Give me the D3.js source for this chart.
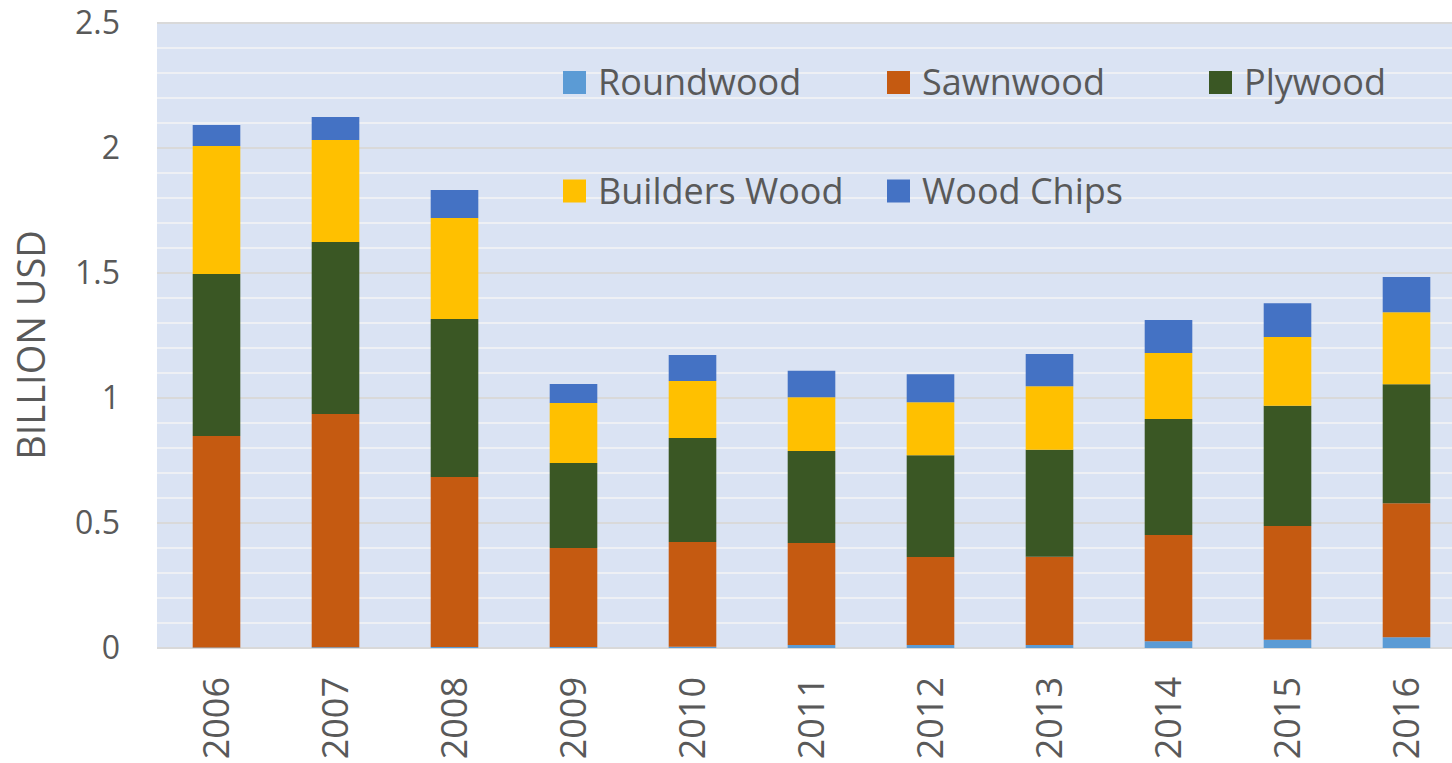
<!DOCTYPE html>
<html><head><meta charset="utf-8">
<script src="https://cdn.jsdelivr.net/npm/d3@7"></script>
<style>
body{margin:0;background:#fff;}
svg text{font-family:"Open Sans",sans-serif;fill:#595959;}
</style></head>
<body><svg id="c" width="1452" height="763"></svg>
<script>
const years = ["2006","2007","2008","2009","2010","2011","2012","2013","2014","2015","2016"];
const seriesNames = ["Roundwood","Sawnwood","Plywood","Builders Wood","Wood Chips"];
const roundwood = [0.002,0.003,0.004,0.004,0.005,0.012,0.012,0.012,0.027,0.033,0.043];
const sawnwood  = [0.846,0.933,0.680,0.396,0.419,0.408,0.352,0.353,0.425,0.455,0.536];
const plywood   = [0.648,0.688,0.632,0.340,0.416,0.368,0.407,0.428,0.464,0.481,0.476];
const builders  = [0.512,0.408,0.404,0.240,0.228,0.215,0.212,0.254,0.264,0.275,0.288];
const woodChips = [0.084,0.092,0.112,0.076,0.104,0.106,0.112,0.129,0.132,0.135,0.141];
const yTicks = [0,0.5,1,1.5,2,2.5];
const colors = ["#5b9bd5","#c55a11","#3a5724","#ffc000","#4472c4"];

const svg = d3.select("#c");
const L = 157, R = 1466, T = 23, B = 648;
const x = d3.scaleBand().domain(years).range([L,R]).paddingInner(0.6).paddingOuter(0.3);
const y = d3.scaleLinear().domain([0,2.5]).range([B,T]);

svg.append("rect").attr("x",L).attr("y",T).attr("width",R-L).attr("height",B-T).attr("fill","#dae3f3");
// minor grid
const minor = d3.range(1,25).map(i=>i/10).filter(v=>Math.abs(v*2-Math.round(v*2))>1e-6);
svg.append("g").selectAll("line").data(minor).join("line")
  .attr("x1",L).attr("x2",R).attr("y1",d=>y(d)).attr("y2",d=>y(d))
  .attr("stroke","#eef0f4").attr("stroke-width",1.8);
svg.append("g").selectAll("line").data(yTicks).join("line")
  .attr("x1",L).attr("x2",R).attr("y1",d=>y(d)).attr("y2",d=>y(d))
  .attr("stroke","#d9d9d9").attr("stroke-width",1.8);

const data = years.map((yr,i)=>({year:yr,Roundwood:roundwood[i],Sawnwood:sawnwood[i],Plywood:plywood[i],"Builders Wood":builders[i],"Wood Chips":woodChips[i]}));
const stacked = d3.stack().keys(seriesNames)(data);
svg.append("g").selectAll("g").data(stacked).join("g").attr("fill",(d,i)=>colors[i])
  .selectAll("rect").data(d=>d).join("rect")
  .attr("x",d=>x(d.data.year)).attr("width",x.bandwidth())
  .attr("y",d=>y(d[1])).attr("height",d=>y(d[0])-y(d[1]));

// y axis labels
const yAxis = svg.append("g").attr("transform",`translate(${L},0)`)
  .call(d3.axisLeft(y).tickValues(yTicks).tickFormat(d3.format("")).tickSize(0).tickPadding(37));
yAxis.select(".domain").remove();
yAxis.selectAll("text").attr("font-size",32).attr("fill","#595959").style("font-family","'Open Sans',sans-serif");

// x axis
const xAxis = svg.append("g").attr("transform",`translate(0,${B})`)
  .call(d3.axisBottom(x).tickSize(0));
xAxis.select(".domain").remove();
xAxis.selectAll("text").attr("font-size",36).attr("fill","#595959")
  .style("font-family","'Open Sans',sans-serif")
  .attr("transform","rotate(-90)").attr("text-anchor","end")
  .attr("x",-29).attr("y",0).attr("dy","0.36em");

// y title
svg.append("text").attr("transform","translate(31,345) rotate(-90)")
  .attr("text-anchor","middle").attr("dy","0.36em").attr("font-size",38).text("BILLION USD");

// legend
const legPos = [[563,82.5],[887,82.5],[1209,82.5],[563,191],[887,191]];
const leg = svg.append("g").selectAll("g").data(seriesNames).join("g")
  .attr("transform",(d,i)=>`translate(${legPos[i][0]},${legPos[i][1]})`);
leg.append("rect").attr("x",0).attr("y",-11.5).attr("width",23).attr("height",23).attr("fill",(d,i)=>colors[i]);
leg.append("text").attr("x",35).attr("dy","0.36em").attr("font-size",36).text(d=>d);
</script></body></html>
